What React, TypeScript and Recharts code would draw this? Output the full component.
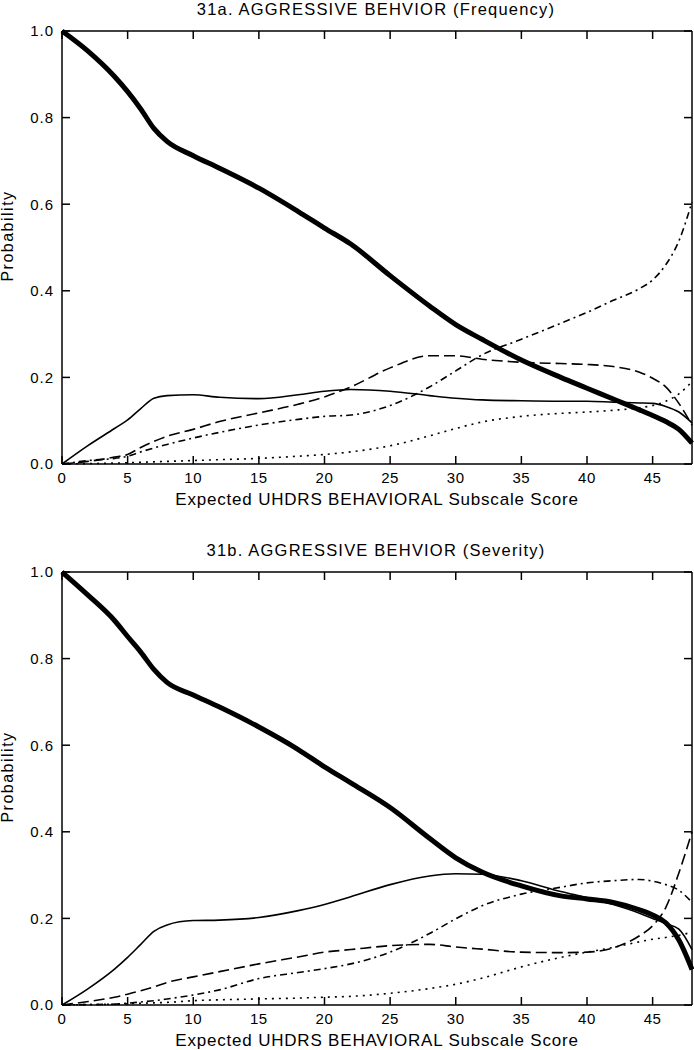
import React from 'react';
import { LineChart, Line, XAxis, YAxis } from 'recharts';

// expected UHDRS behavioral subscale score (x positions)
const SCORE = [0, 2, 4, 5, 6, 7, 8, 10, 12, 15, 18, 20, 22, 25, 28, 30, 32, 35, 38, 40, 42, 44, 45, 46, 47, 48];
const X_TICKS = [0, 5, 10, 15, 20, 25, 30, 35, 40, 45];
const Y_TICKS = [0, 0.2, 0.4, 0.6, 0.8, 1.0];

// 31a. frequency
const FREQ_0 = [1.0, 0.953, 0.895, 0.86, 0.82, 0.775, 0.745, 0.712, 0.683, 0.637, 0.583, 0.545, 0.508, 0.435, 0.365, 0.322, 0.288, 0.24, 0.2, 0.175, 0.15, 0.125, 0.112, 0.098, 0.08, 0.048];
const FREQ_1 = [0, 0.043, 0.082, 0.102, 0.128, 0.152, 0.158, 0.16, 0.154, 0.151, 0.16, 0.168, 0.172, 0.168, 0.158, 0.152, 0.148, 0.146, 0.145, 0.145, 0.143, 0.141, 0.14, 0.133, 0.12, 0.095];
const FREQ_2 = [0, 0.006, 0.016, 0.022, 0.038, 0.052, 0.064, 0.08, 0.098, 0.118, 0.138, 0.155, 0.178, 0.222, 0.25, 0.25, 0.242, 0.235, 0.232, 0.23, 0.225, 0.212, 0.198, 0.178, 0.14, 0.09];
const FREQ_3 = [0, 0.008, 0.013, 0.018, 0.028, 0.037, 0.045, 0.06, 0.073, 0.09, 0.103, 0.11, 0.113, 0.135, 0.178, 0.215, 0.252, 0.288, 0.325, 0.35, 0.378, 0.405, 0.425, 0.46, 0.515, 0.605];
const FREQ_4 = [0, 0.001, 0.002, 0.003, 0.004, 0.005, 0.006, 0.008, 0.01, 0.013, 0.018, 0.022, 0.028, 0.042, 0.065, 0.082, 0.097, 0.11, 0.117, 0.12, 0.124, 0.13, 0.135, 0.145, 0.162, 0.19];

// 31b. severity
const SEV_0 = [1.0, 0.946, 0.888, 0.851, 0.815, 0.775, 0.745, 0.716, 0.688, 0.642, 0.59, 0.55, 0.513, 0.456, 0.385, 0.34, 0.307, 0.275, 0.252, 0.245, 0.237, 0.22, 0.208, 0.19, 0.15, 0.082];
const SEV_1 = [0, 0.038, 0.083, 0.11, 0.14, 0.17, 0.185, 0.195, 0.196, 0.202, 0.218, 0.232, 0.25, 0.278, 0.298, 0.303, 0.302, 0.287, 0.262, 0.248, 0.232, 0.212, 0.2, 0.188, 0.175, 0.128];
const SEV_2 = [0, 0.008, 0.018, 0.025, 0.033, 0.042, 0.052, 0.065, 0.077, 0.095, 0.111, 0.122, 0.128, 0.137, 0.14, 0.134, 0.129, 0.122, 0.121, 0.122, 0.132, 0.16, 0.183, 0.225, 0.305, 0.4];
const SEV_3 = [0, 0.001, 0.002, 0.004, 0.007, 0.01, 0.014, 0.023, 0.035, 0.061, 0.075, 0.084, 0.095, 0.122, 0.165, 0.199, 0.229, 0.256, 0.272, 0.282, 0.287, 0.29, 0.286, 0.278, 0.265, 0.237];
const SEV_4 = [0, 0.001, 0.002, 0.003, 0.004, 0.005, 0.006, 0.01, 0.012, 0.014, 0.016, 0.018, 0.02, 0.027, 0.038, 0.048, 0.062, 0.088, 0.11, 0.122, 0.133, 0.146, 0.152, 0.156, 0.161, 0.168];

const FONT = '"Liberation Sans", Arial, Helvetica, sans-serif';

const toRows = (series: number[][]) =>
  SCORE.map((x, i) => ({ x, p0: series[0][i], p1: series[1][i], p2: series[2][i], p3: series[3][i], p4: series[4][i] }));

const frame = { stroke: '#000', strokeWidth: 1.5 };
const tickMark = { stroke: '#000', strokeWidth: 1.5 };
const xTickText = { fontSize: 15, fontFamily: FONT, fill: '#000', letterSpacing: 0.6 };
const yTickText = { fontSize: 15, fontFamily: FONT, fill: '#000', letterSpacing: 1 };
// the mirrored axes only show tick marks, no text
const NoLabel = () => <g />;

const Panel = ({ title, rows, top }: { title: string; rows: any[]; top: number }) => (
  <div style={{ position: 'absolute', left: 0, top, width: 694, height: 541 }}>
    <LineChart width={694} height={520} data={rows} margin={{ top: 31, right: 2, bottom: 26, left: 0 }}>
      {/* labelled axes */}
      <XAxis dataKey="x" type="number" domain={[0, 48]} ticks={X_TICKS} interval={0} tickLine={false} tickSize={0} tickMargin={8} height={30} tick={xTickText} axisLine={frame} />
      <YAxis type="number" domain={[0, 1]} ticks={Y_TICKS} interval={0} tickLine={false} tickSize={0} tickMargin={8} width={62} tick={yTickText} tickFormatter={(v: number) => v.toFixed(1)} axisLine={frame} />
      {/* mirrored axes: inward tick marks on all four sides of the frame */}
      <XAxis xAxisId="bIn" mirror orientation="bottom" dataKey="x" type="number" domain={[0, 48]} ticks={X_TICKS} interval={0} tick={NoLabel} tickSize={8} tickLine={tickMark} height={1} axisLine={false} />
      <XAxis xAxisId="tIn" mirror orientation="top" dataKey="x" type="number" domain={[0, 48]} ticks={X_TICKS} interval={0} tick={NoLabel} tickSize={8} tickLine={tickMark} height={1} axisLine={frame} />
      <YAxis yAxisId="lIn" mirror orientation="left" type="number" domain={[0, 1]} ticks={Y_TICKS} interval={0} tick={NoLabel} tickSize={8} tickLine={tickMark} width={1} axisLine={false} />
      <YAxis yAxisId="rIn" mirror orientation="right" type="number" domain={[0, 1]} ticks={Y_TICKS} interval={0} tick={NoLabel} tickSize={8} tickLine={tickMark} width={1} axisLine={frame} />
      {/* invisible copies so the mirrored axes are bound to data */}
      <Line xAxisId="bIn" yAxisId="lIn" type="monotone" dataKey="p0" stroke="none" dot={false} activeDot={false} isAnimationActive={false} />
      <Line xAxisId="tIn" yAxisId="rIn" type="monotone" dataKey="p0" stroke="none" dot={false} activeDot={false} isAnimationActive={false} />
      <Line type="monotone" dataKey="p4" stroke="#000" strokeWidth={1.6} strokeDasharray="2 5" dot={false} isAnimationActive={false} />
      <Line type="monotone" dataKey="p3" stroke="#000" strokeWidth={1.6} strokeDasharray="7 4 2 4" dot={false} isAnimationActive={false} />
      <Line type="monotone" dataKey="p2" stroke="#000" strokeWidth={1.6} strokeDasharray="11 5" dot={false} isAnimationActive={false} />
      <Line type="monotone" dataKey="p1" stroke="#000" strokeWidth={1.6} dot={false} isAnimationActive={false} />
      <Line type="monotone" dataKey="p0" stroke="#000" strokeWidth={5} dot={false} isAnimationActive={false} />
    </LineChart>
    <svg width={694} height={541} overflow="visible" style={{ position: 'absolute', left: 0, top: 0, pointerEvents: 'none' }}>
      <text x={376} y={15} textAnchor="middle" fontSize={16.5} fontFamily={FONT} letterSpacing={1.2} fill="#000">
        {title}
      </text>
      <text x={377} y={505} textAnchor="middle" fontSize={17} fontFamily={FONT} letterSpacing={0.8} fill="#000">
        Expected UHDRS BEHAVIORAL Subscale Score
      </text>
      <text x={0} y={0} transform="translate(13, 236) rotate(-90)" textAnchor="middle" fontSize={16} fontFamily={FONT} letterSpacing={1.5} fill="#000">
        Probability
      </text>
    </svg>
  </div>
);

export default function App() {
  const freqRows = toRows([FREQ_0, FREQ_1, FREQ_2, FREQ_3, FREQ_4]);
  const sevRows = toRows([SEV_0, SEV_1, SEV_2, SEV_3, SEV_4]);
  return (
    <div style={{ position: 'absolute', left: 0, top: 0, width: 694, height: 1050, overflow: 'hidden', background: '#fff' }}>
      <Panel title="31a. AGGRESSIVE BEHVIOR (Frequency)" rows={freqRows} top={0} />
      <Panel title="31b. AGGRESSIVE BEHVIOR (Severity)" rows={sevRows} top={541} />
    </div>
  );
}
